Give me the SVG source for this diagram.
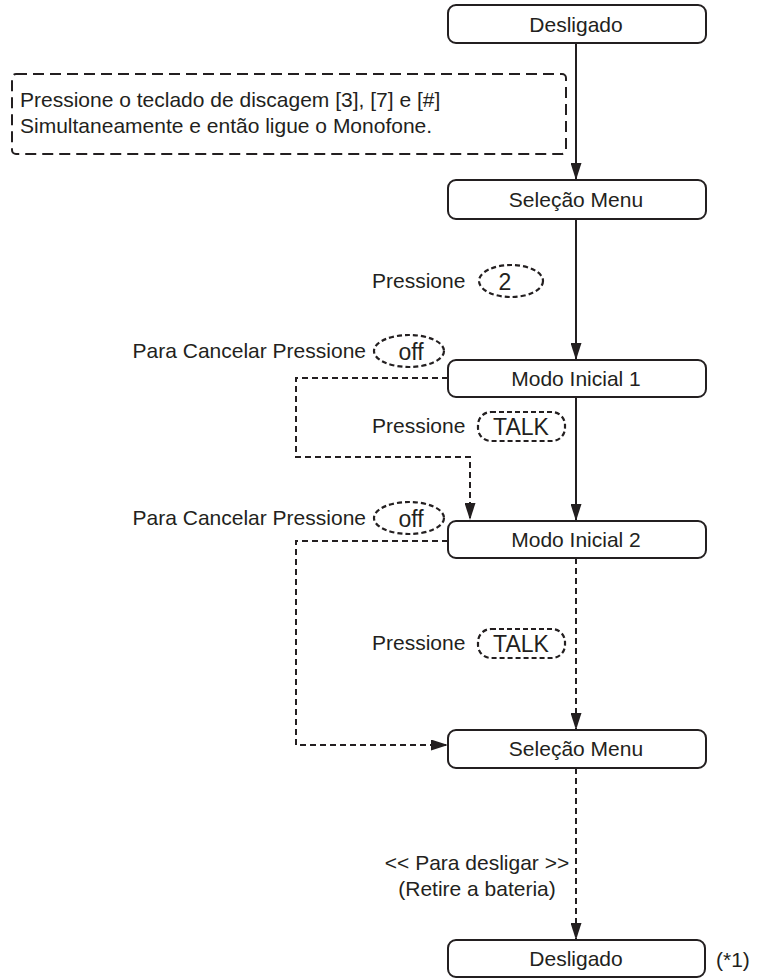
<svg xmlns="http://www.w3.org/2000/svg" width="761" height="979" viewBox="0 0 761 979">
  <style>
    .box { fill: #ffffff; stroke: #231f20; stroke-width: 2; }
    .lbl { font-family: "Liberation Sans", Arial, sans-serif; font-size: 21px; fill: #231f20; }
    .mid { text-anchor: middle; }
    .end { text-anchor: end; }
    .key { fill: none; stroke: #231f20; stroke-width: 2.2; stroke-dasharray: 5 3; }
    .keytxt { font-family: "Liberation Sans", Arial, sans-serif; font-size: 23px; fill: #231f20; text-anchor: middle; }
    .solid { fill: none; stroke: #231f20; stroke-width: 2; }
    .dash { fill: none; stroke: #231f20; stroke-width: 2; stroke-dasharray: 6 4; }
    .note { fill: none; stroke: #231f20; stroke-width: 2; stroke-dasharray: 11 6; }
  </style>
  <defs>
    <!-- filled triangular arrowhead shared by all connectors -->
    <marker id="arrow" viewBox="0 0 17 11" refX="17" refY="5.5" markerWidth="17" markerHeight="11" markerUnits="userSpaceOnUse" orient="auto">
      <path d="M0,0 L17,5.5 L0,11 z" fill="#231f20"/>
    </marker>
  </defs>

  <rect width="761" height="979" fill="#ffffff"/>

  <!-- connectors -->
  <g id="connectors">
    <line class="solid" x1="576" y1="43" x2="576" y2="180" marker-end="url(#arrow)"/>
    <line class="solid" x1="576" y1="219" x2="576" y2="360" marker-end="url(#arrow)"/>
    <line class="solid" x1="576" y1="397" x2="576" y2="521" marker-end="url(#arrow)"/>
    <polyline class="dash" points="448,378 296,378 296,457 470,457 470,520" marker-end="url(#arrow)"/>
    <line class="dash" x1="576" y1="558" x2="576" y2="730" marker-end="url(#arrow)"/>
    <polyline class="dash" points="448,541 296,541 296,745 448,745" marker-end="url(#arrow)"/>
    <line class="dash" x1="576" y1="768" x2="576" y2="940" marker-end="url(#arrow)"/>
  </g>

  <!-- instruction note -->
  <g id="note">
    <rect class="note" x="12" y="74" width="554" height="80" rx="4"/>
    <text class="lbl" x="20" y="107">Pressione o teclado de discagem [3], [7] e [#]</text>
    <text class="lbl" x="20" y="133">Simultaneamente e então ligue o Monofone.</text>
  </g>

  <g id="desligado-1">
    <rect class="box" x="448" y="5" width="258" height="38" rx="8"/>
    <text class="lbl mid" x="576" y="32">Desligado</text>
  </g>

  <g id="selecao-menu-1">
    <rect class="box" x="448" y="180" width="258" height="39" rx="8"/>
    <text class="lbl mid" x="576" y="207">Seleção Menu</text>
  </g>

  <g id="press-2">
    <text class="lbl" x="372" y="288">Pressione</text>
    <ellipse class="key" cx="511" cy="281" rx="32" ry="16"/>
    <text class="keytxt" x="505" y="290">2</text>
  </g>

  <g id="cancel-1">
    <text class="lbl end" x="366" y="358">Para Cancelar Pressione</text>
    <ellipse class="key" cx="409" cy="351" rx="35" ry="16"/>
    <text class="keytxt" x="411" y="360">off</text>
  </g>

  <g id="modo-inicial-1">
    <rect class="box" x="448" y="360" width="258" height="37" rx="8"/>
    <text class="lbl mid" x="576" y="386">Modo Inicial 1</text>
  </g>

  <g id="press-talk-1">
    <text class="lbl" x="372" y="433">Pressione</text>
    <rect class="key" x="478" y="412" width="87" height="29" rx="13"/>
    <text class="keytxt" x="521" y="435">TALK</text>
  </g>

  <g id="cancel-2">
    <text class="lbl end" x="366" y="525">Para Cancelar Pressione</text>
    <ellipse class="key" cx="409" cy="518" rx="35" ry="16"/>
    <text class="keytxt" x="411" y="527">off</text>
  </g>

  <g id="modo-inicial-2">
    <rect class="box" x="448" y="521" width="258" height="37" rx="8"/>
    <text class="lbl mid" x="576" y="547">Modo Inicial 2</text>
  </g>

  <g id="press-talk-2">
    <text class="lbl" x="372" y="650">Pressione</text>
    <rect class="key" x="478" y="629" width="87" height="29" rx="13"/>
    <text class="keytxt" x="521" y="652">TALK</text>
  </g>

  <g id="selecao-menu-2">
    <rect class="box" x="448" y="730" width="258" height="38" rx="8"/>
    <text class="lbl mid" x="576" y="756">Seleção Menu</text>
  </g>

  <g id="power-off">
    <text class="lbl mid" x="477" y="870">&lt;&lt; Para desligar &gt;&gt;</text>
    <text class="lbl mid" x="477" y="896">(Retire a bateria)</text>
  </g>

  <g id="desligado-2">
    <rect class="box" x="448" y="940" width="257" height="37" rx="8"/>
    <text class="lbl mid" x="576" y="966">Desligado</text>
    <text class="lbl" x="716" y="967">(*1)</text>
  </g>
</svg>
